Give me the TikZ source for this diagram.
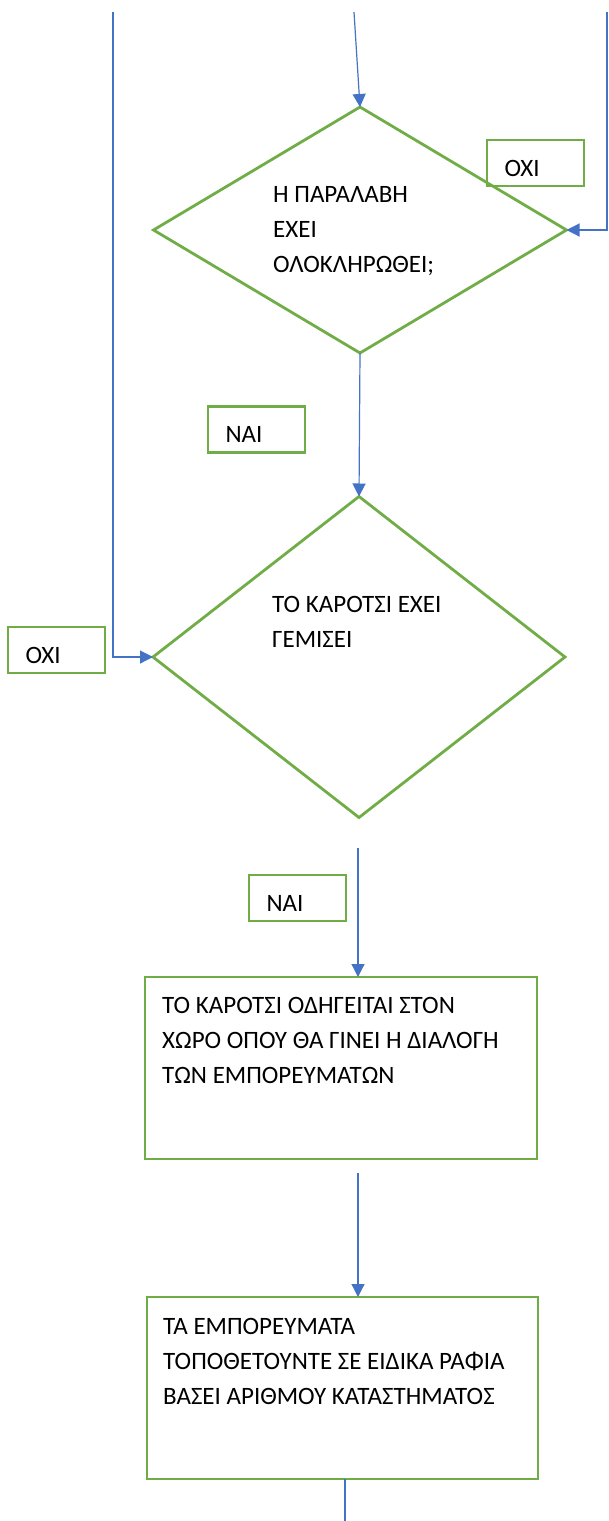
\documentclass[tikz,border=0pt]{standalone}
\usepackage{fontspec}
\newfontfamily\carlito{Carlito}
\usetikzlibrary{shapes.geometric,arrows.meta,calc}
\definecolor{flowgreen}{HTML}{70AD47}
\definecolor{flowblue}{HTML}{4472C4}
\begin{document}
\begin{tikzpicture}[x=1pt,y=-1pt,
  decision/.style={diamond,draw=flowgreen,line width=2.8pt,inner sep=0pt,outer sep=0pt},
  process/.style={rectangle,draw=flowgreen,line width=2.8pt,inner sep=0pt,outer sep=0pt},
  tag/.style={rectangle,draw=flowgreen,line width=2.8pt,outer sep=0pt,
    minimum width=97pt,minimum height=46pt,text width=62pt,inner xsep=17.5pt,inner ysep=0pt,
    align=left,text height=26pt,text depth=0pt,font=\carlito\fontsize{25}{35}\selectfont},
  txt/.style={inner sep=0pt,align=left,anchor=north west,font=\carlito\fontsize{25}{35}\selectfont},
  flow/.style={draw=flowblue,line width=1.2pt,-{Triangle[length=13pt,width=13pt]}},
  plain/.style={draw=flowblue,line width=1.2pt}]
\useasboundingbox (0,0) rectangle (608,1521);

% shapes
\node[decision,minimum width=413pt,minimum height=246pt] (d1) at (360,230) {};
\node[decision,minimum width=412pt,minimum height=321pt] (d2) at (359,657) {};
\node[process,minimum width=392pt,minimum height=182pt] (b1) at (341,1068) {};
\node[process,minimum width=391pt,minimum height=182pt] (b2) at (342.5,1388) {};

% texts
\node[txt] (d1t) at ($(d1.center)+(-87,-43.5)$) {Η ΠΑΡΑΛΑΒΗ\\ΕΧΕΙ\\ΟΛΟΚΛΗΡΩΘΕΙ;};
\node[txt] (d2t) at ($(d2.center)+(-87,-60.5)$) {ΤΟ ΚΑΡΟΤΣΙ ΕΧΕΙ\\ΓΕΜΙΣΕΙ};
\node[txt] (b1t) at ($(b1.north west)+(17,20.5)$) {ΤΟ ΚΑΡΟΤΣΙ ΟΔΗΓΕΙΤΑΙ ΣΤΟΝ\\ΧΩΡΟ ΟΠΟΥ ΘΑ ΓΙΝΕΙ Η ΔΙΑΛΟΓΗ\\ΤΩΝ ΕΜΠΟΡΕΥΜΑΤΩΝ};
\node[txt] (b2t) at ($(b2.north west)+(16,21.5)$) {ΤΑ ΕΜΠΟΡΕΥΜΑΤΑ\\ΤΟΠΟΘΕΤΟΥΝΤΕ ΣΕ ΕΙΔΙΚΑ ΡΑΦΙΑ\\ΒΑΣΕΙ ΑΡΙΘΜΟΥ ΚΑΤΑΣΤΗΜΑΤΟΣ};

% answer tags
\node[tag] (no1) at (535.5,163) {ΟΧΙ};
\node[tag] (yes1) at (256.5,429.5) {ΝΑΙ};
\node[tag] (no2) at (56.5,650) {ΟΧΙ};
\node[tag] (yes2) at (297.5,898) {ΝΑΙ};

% free ends of connectors
\coordinate (top) at (354,12);
\coordinate (left) at (113,12);
\coordinate (right) at (607,12);
\coordinate (c1) at (358,848);
\coordinate (c2) at (358,1173);
\coordinate (out) at (345,1521);

% connectors
\draw[flow] (top) -- (d1.north);
\draw[flow] (right) |- (d1.east);
\draw[flow] (left) |- (d2.west);
\draw[flow] (d1.south) -- (d2.north);
\draw[flow] (c1) -- (c1 |- b1.north);
\draw[flow] (c2) -- (c2 |- b2.north);
\draw[plain] (out |- b2.south) -- (out);
\end{tikzpicture}
\end{document}
